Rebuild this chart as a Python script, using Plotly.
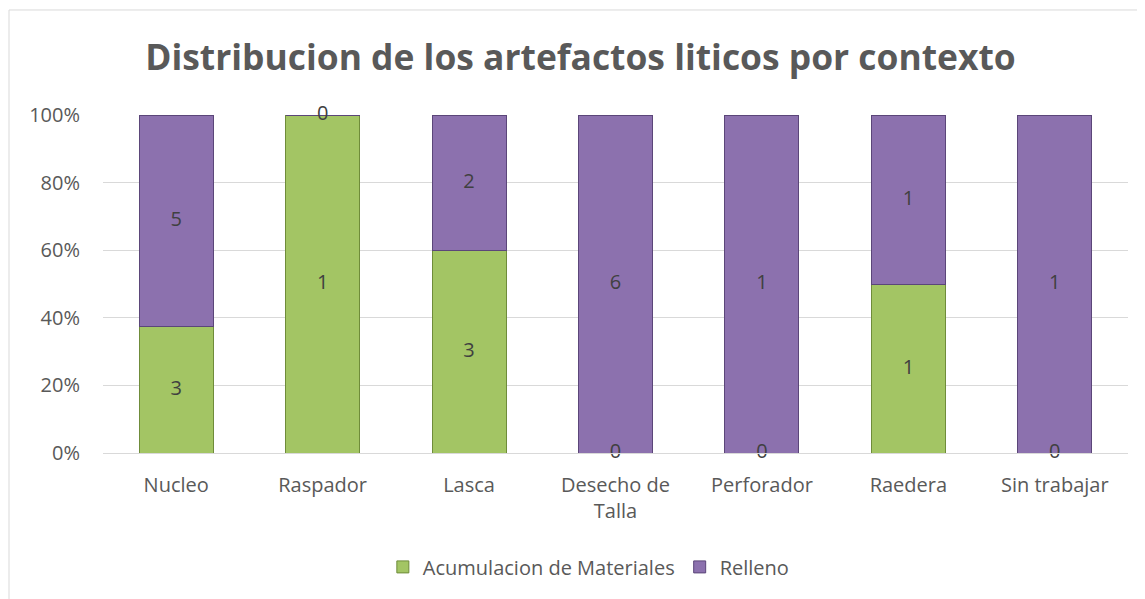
import plotly.graph_objects as go

# data
categories = ["Nucleo", "Raspador", "Lasca", "Desecho de<br>Talla", "Perforador", "Raedera", "Sin trabajar"]
acumulacion = [3, 1, 3, 0, 0, 1, 0]
relleno = [5, 0, 2, 6, 1, 1, 1]
y_ticks = [0, 20, 40, 60, 80, 100]
y_tick_labels = ["0%", "20%", "40%", "60%", "80%", "100%"]

GREEN = "#A3C564"
PURPLE = "#8C71AE"
TEXT = "#595959"
FONT = "Open Sans"

# the page body adds an 8px margin, so everything is shifted up/left by 8px here
OFF = 8

fig = go.Figure()
fig.add_trace(go.Bar(
    x=categories, y=acumulacion, name="Acumulacion de Materiales",
    marker=dict(color=GREEN, line=dict(color="#6F8C3A", width=1)),
    textposition="none",
))
fig.add_trace(go.Bar(
    x=categories, y=relleno, name="Relleno",
    marker=dict(color=PURPLE, line=dict(color="#5B4679", width=1)),
    textposition="none",
))

# data labels in the middle of each segment (percent scale)
totals = [a + r for a, r in zip(acumulacion, relleno)]
green_mid = [a / t * 100 / 2 for a, t in zip(acumulacion, totals)]
purple_mid = [a / t * 100 + r / t * 100 / 2 for a, r, t in zip(acumulacion, relleno, totals)]
fig.add_trace(go.Scatter(
    x=categories, y=green_mid, mode="text", text=[str(v) for v in acumulacion],
    textfont=dict(family=FONT, size=20, color="#404040"), showlegend=False, hoverinfo="skip",
    cliponaxis=False,
))
fig.add_trace(go.Scatter(
    x=categories, y=purple_mid, mode="text", text=[str(v) for v in relleno],
    textfont=dict(family=FONT, size=20, color="#404040"), showlegend=False, hoverinfo="skip",
    cliponaxis=False,
))

fig.update_layout(
    width=1145, height=599,
    barmode="stack", barnorm="percent", bargap=0.495,
    plot_bgcolor="white", paper_bgcolor="white",
    margin=dict(l=103 - OFF, r=17 + OFF, t=115 - OFF, b=146 + OFF),
    font=dict(family=FONT, color=TEXT, size=20),
    title=dict(
        text="<b>Distribucion de los artefactos liticos por contexto</b>",
        x=0.5, xanchor="center", y=1 - (58 - OFF) / 599, yanchor="middle",
        font=dict(family=FONT, size=35.4, color=TEXT),
    ),
    legend=dict(
        orientation="h", x=0.474, xanchor="center", y=-0.337, yanchor="middle",
        font=dict(family=FONT, size=20, color=TEXT), traceorder="normal",
        itemwidth=30,
    ),
    xaxis=dict(
        showgrid=False, showline=True, linecolor="#D9D9D9", linewidth=1,
        tickfont=dict(family=FONT, size=20, color=TEXT), ticks="", ticklabelstandoff=14,
    ),
    yaxis=dict(
        range=[0, 100], tickvals=y_ticks, ticktext=y_tick_labels,
        showgrid=True, gridcolor="#D9D9D9", gridwidth=1, zeroline=False,
        tickfont=dict(family=FONT, size=20, color=TEXT), ticklabelstandoff=22,
    ),
    shapes=[
        dict(type="line", xref="paper", yref="paper", x0=-0.0917, x1=-0.0917, y0=-0.6, y1=1.3107,
             line=dict(color="#D9D9D9", width=1)),
        dict(type="line", xref="paper", yref="paper", x0=-0.0917, x1=1.1, y0=1.3107, y1=1.3107,
             line=dict(color="#D9D9D9", width=1)),
    ],
)

fig.write_html("out.html")
